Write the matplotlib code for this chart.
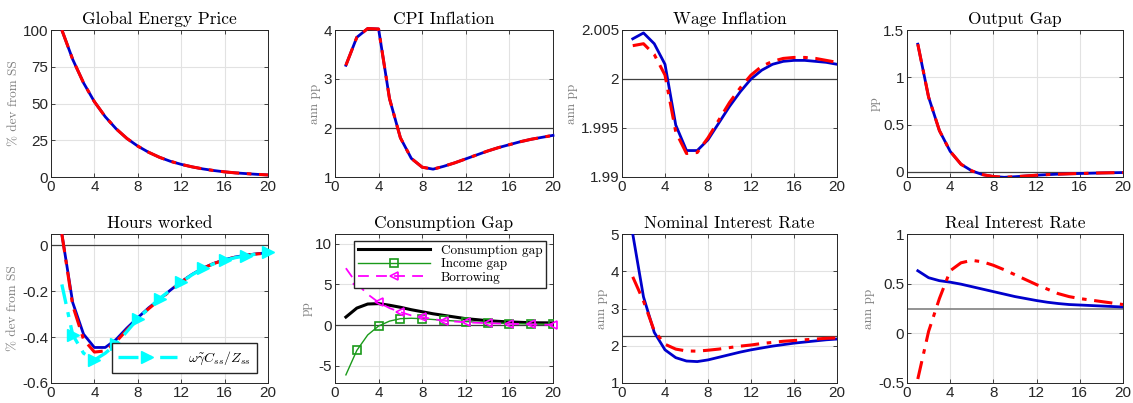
import matplotlib
matplotlib.use('Agg')
import matplotlib.pyplot as plt
import numpy as np

plt.rcParams['font.family'] = ['Liberation Sans', 'DejaVu Sans']
plt.rcParams['mathtext.fontset'] = 'cm'
plt.rcParams['axes.unicode_minus'] = False

t = np.arange(1, 21)

# Global energy price (both models identical)
energy = [100, 80, 64, 51.2, 41, 32.8, 26.2, 21, 16.8, 13.4,
          10.7, 8.6, 6.9, 5.5, 4.4, 3.5, 2.8, 2.3, 1.8, 1.4]

# CPI inflation
cpi = [3.28, 3.85, 4.03, 4.02, 2.6, 1.8, 1.38, 1.2, 1.16, 1.22,
       1.29, 1.37, 1.45, 1.53, 1.6, 1.66, 1.72, 1.77, 1.81, 1.85]

# wage inflation
wage_blue = [2.0041, 2.0047, 2.0036, 2.0015, 1.9953, 1.9927, 1.9927, 1.9938, 1.9955, 1.9972,
             1.9987, 2.0000, 2.0009, 2.0015, 2.0018, 2.0019, 2.0019, 2.0018, 2.0017, 2.0015]
wage_red = [2.0034, 2.0036, 2.0025, 2.0004, 1.9946, 1.9924, 1.9925, 1.9940, 1.9958, 1.9976,
            1.9991, 2.0004, 2.0013, 2.0018, 2.0021, 2.0022, 2.0022, 2.0021, 2.0019, 2.0017]

# output gap
ygap = [1.35, 0.79, 0.436, 0.216, 0.08, 0.01, -0.03, -0.05, -0.058, -0.052,
        -0.044, -0.036, -0.03, -0.025, -0.021, -0.018, -0.015, -0.012, -0.01, -0.008]

# hours worked
hours_blue = [0.05, -0.249, -0.387, -0.445, -0.445, -0.41, -0.36, -0.315, -0.272, -0.235,
              -0.195, -0.158, -0.126, -0.099, -0.078, -0.062, -0.05, -0.042, -0.036, -0.032]
hours_red = [0.05, -0.262, -0.41, -0.465, -0.46, -0.42, -0.368, -0.32, -0.276, -0.237,
             -0.197, -0.16, -0.128, -0.1, -0.079, -0.063, -0.051, -0.043, -0.037, -0.033]
hours_cyan = [-0.17, -0.39, -0.47, -0.50, -0.47, -0.43, -0.375, -0.32, -0.275, -0.232,
              -0.195, -0.16, -0.128, -0.1, -0.08, -0.065, -0.053, -0.045, -0.037, -0.03]

# consumption gap decomposition
cons_gap = [1.0, 2.1, 2.6, 2.65, 2.45, 2.2, 1.9, 1.65, 1.4, 1.2,
            1.0, 0.8, 0.68, 0.55, 0.47, 0.4, 0.35, 0.3, 0.29, 0.28]
income_gap = [-6.1, -3.1, -1.2, -0.1, 0.5, 0.8, 0.85, 0.8, 0.7, 0.6,
              0.52, 0.45, 0.37, 0.3, 0.25, 0.2, 0.17, 0.15, 0.13, 0.12]
borrowing = [7.0, 5.1, 3.8, 2.8, 2.1, 1.6, 1.2, 1.0, 0.75, 0.55,
             0.45, 0.35, 0.3, 0.25, 0.21, 0.18, 0.14, 0.1, 0.07, 0.05]

# nominal interest rate
nom_blue = [5.0, 3.31, 2.36, 1.89, 1.68, 1.59, 1.575, 1.62, 1.69, 1.76,
            1.83, 1.89, 1.94, 1.99, 2.03, 2.07, 2.1, 2.13, 2.16, 2.18]
nom_red = [3.85, 3.2, 2.4, 2.04, 1.91, 1.86, 1.855, 1.88, 1.91, 1.95,
           1.99, 2.02, 2.06, 2.09, 2.12, 2.14, 2.16, 2.18, 2.2, 2.21]

# real interest rate
real_blue = [0.63, 0.56, 0.53, 0.515, 0.495, 0.47, 0.445, 0.42, 0.395, 0.37,
             0.35, 0.33, 0.313, 0.30, 0.29, 0.285, 0.28, 0.275, 0.27, 0.265]
real_red = [-0.46, 0.02, 0.35, 0.63, 0.71, 0.735, 0.72, 0.685, 0.64, 0.59,
            0.54, 0.49, 0.445, 0.40, 0.37, 0.35, 0.335, 0.32, 0.305, 0.29]

xticks = [0, 4, 8, 12, 16, 20]

fig = plt.figure(figsize=(11.33, 4.03), dpi=100)

lefts = [51, 335, 622, 907]
widths = [217, 218, 215, 216]
row_y = [(30, 177), (234, 383)]
W, H = 1133, 403


def make_ax(r, c):
    top, bot = row_y[r]
    ax = fig.add_axes([lefts[c] / W, 1 - bot / H, widths[c] / W, (bot - top) / H])
    ax.set_xlim(0, 20)
    ax.set_xticks(xticks)
    ax.grid(True, color='#e2e2e2', linewidth=0.8)
    ax.set_axisbelow(True)
    ax.tick_params(direction='in', top=True, right=True, labelsize=11,
                   colors='#262626', length=3, width=0.6, pad=2)
    for s in ax.spines.values():
        s.set_color('#262626')
        s.set_linewidth(0.7)
    return ax


def title(ax, s):
    ax.set_title(s, fontfamily='cmr10', fontsize=12.5, pad=4)


def ylab(ax, s):
    ax.set_ylabel(s, fontfamily='cmr10', fontsize=9.5, color='#808080', labelpad=2)


def pair(ax, b, rd, clip=True):
    ax.plot(t, b, color='#0000cc', lw=2.0, zorder=3, clip_on=clip)
    ax.plot(t, rd, color='red', lw=2.2, ls=(0, (6, 2.5, 1.5, 2.5)), zorder=4, clip_on=clip)


# Global Energy Price
ax = make_ax(0, 0)
pair(ax, energy, energy)
ax.set_ylim(0, 100)
ax.set_yticks([0, 25, 50, 75, 100])
title(ax, 'Global Energy Price')
ylab(ax, '% dev from SS')

# CPI inflation
ax = make_ax(0, 1)
ax.axhline(2, color='#404040', lw=0.9, zorder=2)
pair(ax, cpi, cpi, clip=False)
ax.set_ylim(1, 4)
ax.set_yticks([1, 2, 3, 4])
title(ax, 'CPI Inflation')
ylab(ax, 'ann pp')

# Wage inflation
ax = make_ax(0, 2)
ax.axhline(2, color='#404040', lw=0.9, zorder=2)
pair(ax, wage_blue, wage_red)
ax.set_ylim(1.99, 2.005)
ax.set_yticks([1.99, 1.995, 2, 2.005])
ax.set_yticklabels(['1.99', '1.995', '2', '2.005'])
title(ax, 'Wage Inflation')
ylab(ax, 'ann pp')

# Output gap
ax = make_ax(0, 3)
ax.axhline(0, color='#404040', lw=0.9, zorder=2)
pair(ax, ygap, ygap)
ax.set_ylim(-0.055, 1.5)
ax.set_yticks([0, 0.5, 1, 1.5])
ax.set_yticklabels(['0', '0.5', '1', '1.5'])
title(ax, 'Output Gap')
ylab(ax, 'pp')

# Hours worked
ax = make_ax(1, 0)
ax.axhline(0, color='#404040', lw=0.9, zorder=2)
pair(ax, hours_blue, hours_red)
ax.plot(t, hours_cyan, color='cyan', lw=2.4, ls=(0, (6, 2.5, 1.5, 2.5)),
        marker='>', markevery=list(range(1, 20, 2)), markersize=8, zorder=5,
        clip_on=False, label=r'$\omega\tilde{\gamma}C_{ss}/Z_{ss}$')
ax.set_ylim(-0.6, 0.05)
ax.set_yticks([-0.6, -0.4, -0.2, 0])
ax.set_yticklabels(['-0.6', '-0.4', '-0.2', '0'])
ax.legend(loc='lower right', fontsize=10, frameon=True, fancybox=False,
          edgecolor='#262626', framealpha=1, handlelength=4.2, borderpad=0.45,
          bbox_to_anchor=(0.98, 0.02))
title(ax, 'Hours worked')
ylab(ax, '% dev from SS')

# Consumption gap
ax = make_ax(1, 1)
ax.axhline(0, color='#404040', lw=0.9, zorder=2)
ax.plot(t, cons_gap, color='black', lw=2.2, label='Consumption gap', zorder=3)
ax.plot(t, income_gap, color='#1a9a1a', lw=1.0, marker='s', markevery=list(range(1, 20, 2)),
        markersize=6, markerfacecolor='none', markeredgewidth=1.2, label='Income gap', zorder=4)
ax.plot(t, borrowing, color='magenta', lw=1.3, ls=(0, (6, 4)), marker='<',
        markevery=list(range(1, 20, 2)), markersize=6, markerfacecolor='none',
        markeredgewidth=1.2, label='Borrowing', zorder=4, clip_on=False)
ax.set_ylim(-7.1, 11.2)
ax.set_yticks([-5, 0, 5, 10])
leg = ax.legend(loc='upper right', frameon=True, fancybox=False,
                edgecolor='#262626', framealpha=1, handlelength=5.5, borderpad=0.3,
                labelspacing=0.1, prop={'family': 'cmr10', 'size': 9.5})
title(ax, 'Consumption Gap')
ylab(ax, 'pp')

# Nominal interest rate
ax = make_ax(1, 2)
ax.axhline(2.25, color='#404040', lw=0.9, zorder=2)
pair(ax, nom_blue, nom_red)
ax.set_ylim(1, 5)
ax.set_yticks([1, 2, 3, 4, 5])
title(ax, 'Nominal Interest Rate')
ylab(ax, 'ann pp')

# Real interest rate
ax = make_ax(1, 3)
ax.axhline(0.25, color='#808080', lw=1.2, zorder=2)
pair(ax, real_blue, real_red)
ax.set_ylim(-0.5, 1)
ax.set_yticks([-0.5, 0, 0.5, 1])
ax.set_yticklabels(['-0.5', '0', '0.5', '1'])
title(ax, 'Real Interest Rate')
ylab(ax, 'ann pp')

fig.savefig('out.png', dpi=100)
